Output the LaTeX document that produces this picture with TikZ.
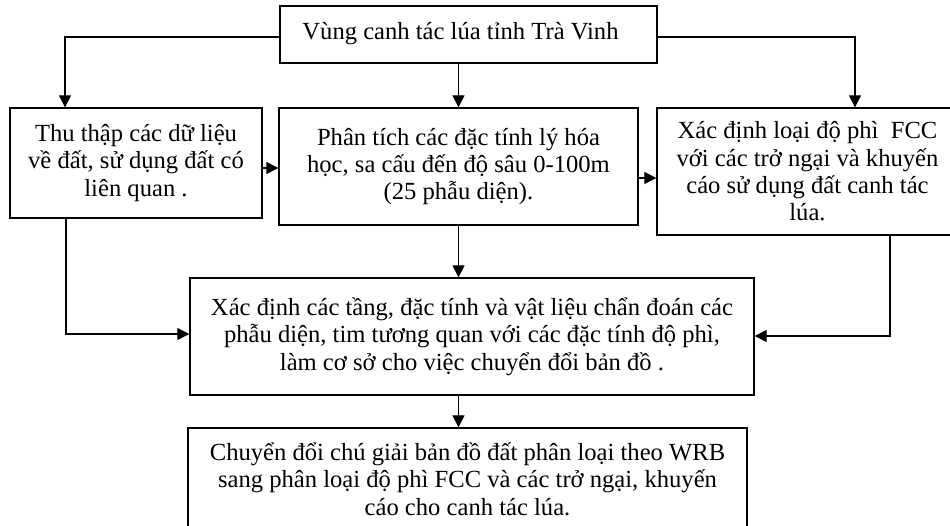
\documentclass[tikz,border=0pt]{standalone}
\usepackage{fontspec}
\setmainfont{Liberation Serif}
\usetikzlibrary{arrows.meta}
\begin{document}
\begin{tikzpicture}[x=0.025cm,y=-0.025cm,
  box/.style={draw,line width=0.9pt,inner sep=0pt,align=center,
    font=\fontsize{17.5}{19.4}\selectfont},
  arr/.style={line width=0.9pt,-{Triangle[length=0.3cm,width=0.3cm]}}]
\useasboundingbox (0,0) rectangle (950,526);
\clip (0,0) rectangle (950,526);
\fill[white] (0,0) rectangle (950,526);
\node[box,minimum width=9.425cm,minimum height=1.425cm] (top) at (468.5,34.5)
  {Vùng canh tác lúa tỉnh Trà Vinh\rule[-0.2cm]{0pt}{0.2cm}\hspace*{0.4cm}};
\node[box,minimum width=6.3cm,minimum height=2.75cm] (left) at (136,163)
  {Thu thập các dữ liệu\\về đất, sử dụng đất có\\liên quan .};
\node[box,minimum width=8.975cm,minimum height=2.925cm] (mid) at (458.5,166.5)
  {Phân tích các đặc tính lý hóa\\học, sa cấu đến độ sâu 0-100m\\(25 phẫu diện).};
\node[box,minimum width=7.525cm,minimum height=3.175cm] (right) at (807.5,171.5)
  {Xác định loại độ phì\ \ FCC\\với các trở ngại và khuyến\\cáo sử dụng đất canh tác\\lúa.};
\node[box,minimum width=14.1cm,minimum height=2.925cm] (conv) at (472,336.5)
  {Xác định các tầng, đặc tính và vật liệu chẩn đoán các\\phẫu diện, tim tương quan với các đặc tính độ phì,\\làm cơ sở cho việc chuyển đổi bản đồ .};
\node[box,minimum width=13.975cm,minimum height=2.55cm] (final) at (467.5,479)
  {Chuyển đổi chú giải bản đồ đất phân loại theo WRB\\sang phân loại độ phì FCC và các trở ngại, khuyến\\cáo cho canh tác lúa.};
\coordinate (jL) at (65,37);
\coordinate (jR) at (855,37);
\coordinate (a1) at (0,168);
\coordinate (a2) at (0,178);
\coordinate (dL) at (66,334);
\coordinate (dR) at (890,336);
\draw[arr] (top.west |- jL) -- (jL) -- (left.north -| jL);
\draw[arr] (top.south -| mid.north) -- (mid.north);
\draw[arr] (top.east |- jR) -- (jR) -- (right.north -| jR);
\draw[arr] (left.east |- a1) -- (mid.west |- a1);
\draw[arr] (mid.east |- a2) -- (right.west |- a2);
\draw[arr] (left.south -| dL) -- (dL) -- (conv.west |- dL);
\draw[arr] (mid.south) -- (mid.south |- conv.north);
\draw[arr] (right.south -| dR) -- (dR) -- (conv.east |- dR);
\draw[arr] (conv.south -| mid.south) -- (final.north -| mid.south);
\end{tikzpicture}
\end{document}
